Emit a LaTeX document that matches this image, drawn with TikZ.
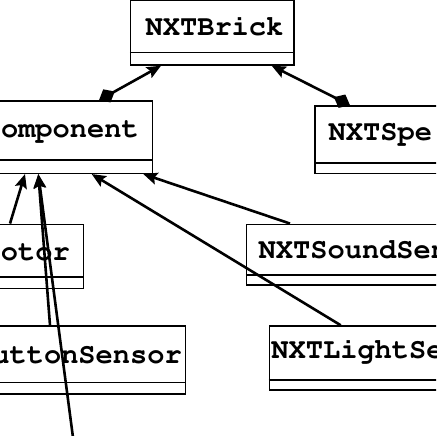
\documentclass[tikz,border=0pt]{standalone}
\usepackage[T1]{fontenc}
\usetikzlibrary{arrows.meta}
\begin{document}
\begin{tikzpicture}[x=1pt,y=-1pt,
  umlbox/.style={draw=black,line width=1.5pt,fill=white,inner sep=0pt,rectangle},
  lbl/.style={inner sep=0pt,font=\fontfamily{pcr}\fontseries{b}\fontsize{28.7}{30}\selectfont},
  conn/.style={line width=2.6pt,draw=black},
  aggr/.style={conn,{Diamond[length=18pt,width=15pt]}-{Stealth[length=14pt,width=12pt,inset=2.5pt]}},
  gen/.style={conn,-{Stealth[length=14pt,width=12pt,inset=2.5pt]}}]
\useasboundingbox (0,0) rectangle (436,436);
\clip (0,0) rectangle (436,436);
\fill[white] (0,0) rectangle (436,436);
% boxes
\node[umlbox,minimum width=163.3pt,minimum height=64.5pt] (brick) at (212.35,32.75) {};
\node[umlbox,minimum width=153.3pt,minimum height=72.3pt] (comp) at (75.65,137.15) {};
\node[umlbox,minimum width=125pt,minimum height=67.3pt] (spe) at (377.5,139.65) {};
\node[umlbox,minimum width=84.3pt,minimum height=64pt] (motor) at (41.15,256.3) {};
\node[umlbox,minimum width=186.7pt,minimum height=68pt] (button) at (92.35,360) {};
\node[umlbox,minimum width=193.3pt,minimum height=60.7pt] (sound) at (343.35,254.65) {};
\node[umlbox,minimum width=170.7pt,minimum height=64pt] (light) at (354.65,358) {};
% dividers
\draw[line width=1.5pt] ([yshift=13.3pt]brick.south west) -- ([yshift=13.3pt]brick.south east);
\draw[line width=1.5pt] ([yshift=14pt]comp.south west) -- ([yshift=14pt]comp.south east);
\draw[line width=1.5pt] ([yshift=11pt]spe.south west) -- ([yshift=11pt]spe.south east);
\draw[line width=1.5pt] ([yshift=12.3pt]motor.south west) -- ([yshift=12.3pt]motor.south east);
\draw[line width=1.5pt] ([yshift=12.3pt]button.south west) -- ([yshift=12.3pt]button.south east);
\draw[line width=1.5pt] ([yshift=11pt]sound.south west) -- ([yshift=11pt]sound.south east);
\draw[line width=1.5pt] ([yshift=10.7pt]light.south west) -- ([yshift=10.7pt]light.south east);
% labels
\node[lbl,anchor=base] (tbrick) at (214.5,36) {NXTBrick};
\node[lbl,anchor=base east] (tcomp) at (139,137) {omponent};
\node[lbl,anchor=base west] (tspe) at (328.5,140) {NXTSpe};
\node[lbl,anchor=base east] (tmotor) at (70,260) {otor};
\node[lbl,anchor=base east] (tbutton) at (182,363) {uttonSensor};
\node[lbl,anchor=base west] (tsound) at (258.5,258) {NXTSoundSen};
\node[lbl,anchor=base west] (tlight) at (271.2,358) {NXTLightSen};
% connectors
\draw[aggr] ([xshift=99pt]comp.north west -| 0,0) -- ([xshift=161pt]brick.south west -| 0,0);
\draw[aggr] ([xshift=350pt]spe.north west -| 0,0) -- ([xshift=271.7pt]brick.south west -| 0,0);
\draw[gen] ([xshift=10pt]motor.north west -| 0,0) -- ([xshift=25pt]comp.south west -| 0,0);
\draw[gen] ([xshift=50pt]button.north west -| 0,0) -- ([xshift=38.3pt]comp.south west -| 0,0);
\coordinate (ext) at (74,445);
\draw[gen] (ext) -- ([xshift=38.3pt]comp.south west -| 0,0);
\draw[gen] ([xshift=340.7pt]light.north west -| 0,0) -- ([xshift=91.7pt]comp.south west -| 0,0);
\draw[gen] ([xshift=290pt]sound.north west -| 0,0) -- ([xshift=143.3pt]comp.south west -| 0,0);
\end{tikzpicture}
\end{document}
